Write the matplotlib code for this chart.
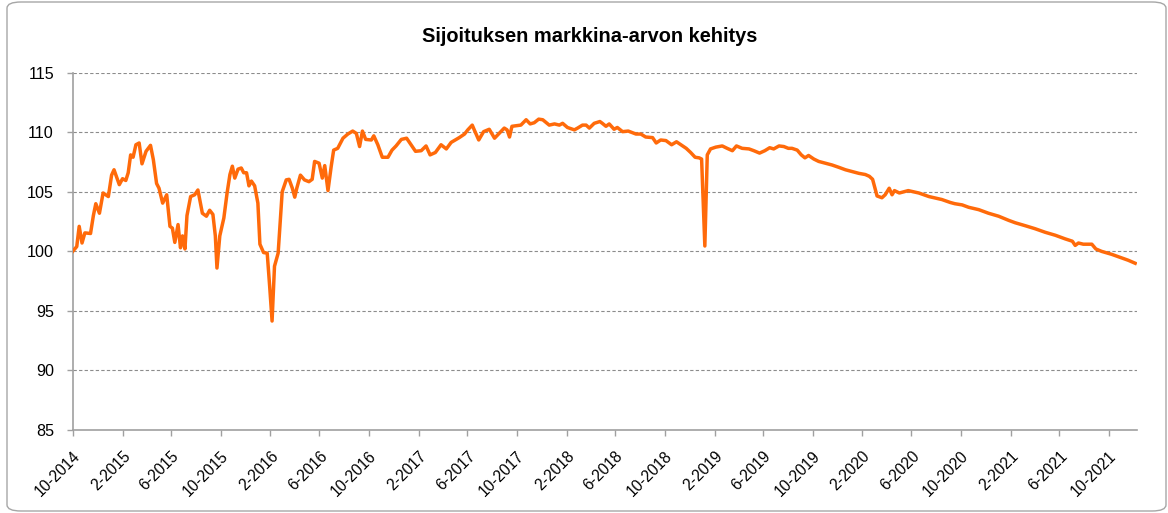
import matplotlib
matplotlib.use("Agg")
import matplotlib.pyplot as plt
import matplotlib.transforms as mtransforms
from matplotlib.patches import FancyBboxPatch
import pandas as pd

# Päiväys (päiviä alkupäivästä 1.10.2014) ja indeksin arvo
start_date = "2014-10-01"

days = [
    0, 10, 16, 23, 30, 44, 51, 57, 66, 75, 88, 96, 102, 115, 123, 131, 137, 143,
    149, 156, 164, 171, 181, 192, 199, 207, 213, 222, 232, 240, 246, 252, 260,
    266, 271, 277, 282, 291, 301, 309, 320, 330, 338, 346, 352, 356, 363, 373,
    381, 388, 394, 400, 408, 416, 422, 429, 435, 441, 449, 457, 462, 471, 480,
    486, 492, 498, 507, 517, 527, 534, 542, 548, 553, 562, 572, 583, 591, 597,
    608, 616, 622, 630, 638,
    644, 654, 667, 679, 691, 700, 708, 715, 723, 737, 743, 753, 764, 778, 788,
    798, 811, 824, 835, 846, 860, 872, 882, 895, 909, 922, 934, 944, 954, 967,
    975, 986, 991, 1002, 1014, 1028, 1041, 1051, 1065, 1072, 1078, 1084, 1096,
    1106, 1119, 1129, 1139, 1150, 1160, 1176, 1189, 1201, 1209, 1221, 1238,
    1246, 1258, 1267, 1275, 1287, 1301, 1307, 1316, 1324, 1336, 1344, 1357,
    1371,
    1390, 1402, 1414, 1431, 1440, 1451, 1464, 1478, 1490, 1501, 1514, 1525,
    1536, 1546, 1552, 1560, 1566, 1574, 1587, 1603, 1615, 1628, 1638, 1652,
    1669, 1681, 1695, 1708, 1720, 1730, 1743, 1755, 1766, 1775, 1788, 1798,
    1807, 1816, 1829, 1841, 1858, 1874, 1891, 1907, 1923, 1940, 1956, 1966,
    1974, 1985, 1997, 2005, 2015, 2022, 2028, 2040,
    2062, 2088, 2113, 2145, 2166, 2177, 2195, 2211, 2236, 2260, 2285, 2310,
    2326, 2351, 2375, 2400, 2425, 2449, 2467, 2474, 2482, 2494, 2515, 2525,
    2539, 2564, 2589, 2605, 2622,
]

values = [
    100.0, 100.4, 102.1, 100.7, 101.55, 101.5, 103.0, 104.0, 103.2, 104.9, 104.6,
    106.4, 106.85, 105.6, 106.1, 105.95, 106.6, 108.1, 107.9, 108.95, 109.1,
    107.35, 108.4, 108.9, 107.7, 105.7, 105.3, 104.05, 104.75, 102.1, 101.95,
    100.75, 102.25, 100.3, 101.3, 100.2, 103.0, 104.6, 104.75, 105.15, 103.2,
    102.95, 103.45, 103.1, 101.3, 98.6, 101.3, 102.8, 104.9, 106.45, 107.15,
    106.15, 106.9, 107.0, 106.6, 106.6, 105.5, 105.9, 105.5, 104.05, 100.6,
    99.9, 99.85, 97.1, 94.15, 98.75, 99.85, 105.0, 106.0, 106.05, 105.3, 104.55,
    105.3, 106.4, 106.0, 105.85, 106.05, 107.55, 107.4, 106.15, 107.2, 105.1,
    107.15,
    108.5, 108.65, 109.5, 109.85, 110.1, 109.9, 108.8, 110.1, 109.4, 109.35,
    109.7, 108.95, 107.9, 107.9, 108.5, 108.85, 109.4, 109.5, 108.95, 108.4,
    108.45, 108.85, 108.1, 108.3, 108.95, 108.6, 109.15, 109.35, 109.55, 109.85,
    110.2, 110.6, 110.2, 109.35, 110.05, 110.25, 109.5, 109.85, 110.35, 110.2,
    109.6, 110.5, 110.55, 110.6, 111.05, 110.7, 110.8, 111.1, 111.05, 110.6,
    110.7, 110.6, 110.75, 110.4, 110.2, 110.35, 110.6, 110.6, 110.35, 110.75,
    110.9, 110.75, 110.5, 110.7, 110.25, 110.4, 110.05, 110.1,
    109.85, 109.85, 109.6, 109.55, 109.1, 109.35, 109.3, 108.95, 109.2, 108.95,
    108.65, 108.3, 107.9, 107.85, 107.75, 100.45, 108.1, 108.6, 108.75, 108.85,
    108.65, 108.45, 108.85, 108.65, 108.6, 108.45, 108.25, 108.45, 108.7, 108.6,
    108.85, 108.8, 108.65, 108.65, 108.5, 108.1, 107.85, 108.05, 107.75, 107.55,
    107.4, 107.25, 107.05, 106.85, 106.7, 106.55, 106.45, 106.3, 106.05, 104.65,
    104.5, 104.75, 105.3, 104.75, 105.1, 104.9,
    105.1, 104.9, 104.6, 104.35, 104.1, 104.0, 103.9, 103.7, 103.5, 103.2,
    102.95, 102.6, 102.4, 102.15, 101.9, 101.6, 101.35, 101.05, 100.85, 100.5,
    100.7, 100.6, 100.6, 100.2, 100.0, 99.75, 99.45, 99.25, 99.0,
]

tick_dates = pd.date_range("2014-10-01", "2021-10-01", freq="4MS")
y_ticks = [85, 90, 95, 100, 105, 110, 115]

font = "Liberation Sans"

def main():
    dates = pd.Timestamp(start_date) + pd.to_timedelta(days, unit="D")

    fig = plt.figure(figsize=(11.68, 5.13), dpi=100)
    fig.patch.set_facecolor("white")
    # kaavion reunus
    border = FancyBboxPatch((7 / 1168, 2 / 513), 1159 / 1168, 509 / 513,
                            boxstyle="round,pad=0,rounding_size=0.012",
                            transform=fig.transFigure, facecolor="none",
                            edgecolor="#a6a6a6", linewidth=1.0, zorder=-1)
    fig.patches.append(border)

    ax = fig.add_axes([72.7 / 1168, 1 - 430 / 513,
                       (1136.8 - 72.7) / 1168, (430 - 72.7) / 513])
    ax.set_facecolor("none")
    ax.plot(dates, values, color="#ff6a0a", linewidth=2.5, solid_joinstyle="round",
            zorder=3)

    ax.set_ylim(85, 115)
    ax.set_yticks(y_ticks)
    ax.set_xlim(pd.Timestamp(start_date), pd.Timestamp(start_date) + pd.Timedelta(days=2626))
    ax.set_xticks(tick_dates)
    ax.set_xticklabels([f"{d.month}-{d.year}" for d in tick_dates], rotation=45,
                       ha="right", rotation_mode="anchor", fontsize=11.2,
                       family=font)
    # Excel-tyylinen siirto: tekstin loppu hieman tikin oikealle puolelle
    shift = mtransforms.ScaledTranslation(4 / 100, 0, fig.dpi_scale_trans)
    for lab in ax.get_xticklabels():
        lab.set_transform(lab.get_transform() + shift)
    for lab in ax.get_yticklabels():
        lab.set_family(font)
        lab.set_fontsize(11.6)

    for y in y_ticks[1:]:
        ax.axhline(y, color="#8c8c8c", linestyle=(0, (3, 2)), linewidth=0.8, zorder=1)

    for side in ["top", "right"]:
        ax.spines[side].set_visible(False)
    for side in ["left", "bottom"]:
        ax.spines[side].set_color("#a0a0a0")
        ax.spines[side].set_linewidth(1.2)
    ax.tick_params(axis="both", colors="#a0a0a0", length=4.5, width=1.0,
                   labelcolor="black")
    ax.tick_params(axis="y", pad=9)
    ax.tick_params(axis="x", pad=9)

    fig.text(590 / 1168, 1 - 36 / 513, "Sijoituksen markkina-arvon kehitys",
             ha="center", va="center", fontsize=14.4, fontweight="bold",
             family=font)

    fig.savefig("out.png", dpi=100)
    plt.close(fig)

if __name__ == "__main__":
    main()
